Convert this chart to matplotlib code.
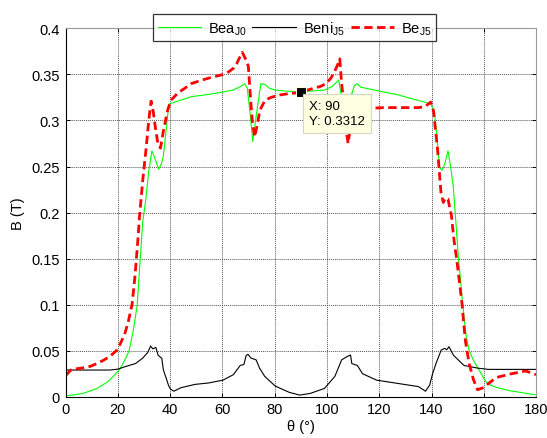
import numpy as np
import matplotlib
matplotlib.use('Agg')
import matplotlib.pyplot as plt

plt.rcParams['font.family'] = ['Liberation Sans', 'DejaVu Sans']
plt.rcParams['mathtext.fontset'] = 'custom'
plt.rcParams['mathtext.rm'] = 'Liberation Sans'

# Bea_J0 (green)
green_theta = [0, 3, 6.7, 12, 16, 18.7, 20.7, 22.7, 24.3, 26, 27.4, 28.3, 29.5, 30.7, 31.8, 33, 34,
               35.6, 36.5, 37.3, 38.3, 39, 39.6, 44, 48.3, 54, 60.3, 64, 67, 68.5, 69.5, 70.5, 71.6,
               73, 74.7, 76.3, 78, 80.3, 84, 88.3, 94, 99, 102, 104.5, 105.6, 106.6, 107.5, 109,
               110.5, 111.6, 113, 115, 121.6, 127, 132, 136, 139.7, 141, 141.6, 142.3, 143, 144, 145,
               146.3, 147.3, 148.3, 149.3, 150.3, 151, 151.6, 152.5, 153.3, 154.4, 156, 158, 160,
               161, 163, 165, 170, 175, 180]
green_b = [0.001, 0.002, 0.0036, 0.009, 0.016, 0.0235, 0.030, 0.040, 0.05, 0.074, 0.10, 0.14, 0.19,
           0.215, 0.245, 0.267, 0.26, 0.247, 0.252, 0.26, 0.285, 0.305, 0.318, 0.322, 0.326, 0.328,
           0.331, 0.333, 0.337, 0.340, 0.335, 0.31, 0.277, 0.307, 0.340, 0.339, 0.335, 0.333, 0.332,
           0.331, 0.332, 0.333, 0.337, 0.344, 0.325, 0.31, 0.305, 0.325, 0.338, 0.340, 0.336, 0.335,
           0.331, 0.328, 0.324, 0.321, 0.318, 0.31, 0.296, 0.275, 0.249, 0.246, 0.252, 0.267, 0.25,
           0.229, 0.19, 0.15, 0.13, 0.11, 0.085, 0.065, 0.05, 0.04, 0.030, 0.02, 0.0156, 0.012,
           0.010, 0.0065, 0.0043, 0.002]

# Beni_J5 (black)
black_theta = [0, 17, 20, 22.7, 26.7, 29.4, 31.4, 32.5, 33.4, 34.5, 35.4, 36.8, 37.4, 38.5, 39.4,
               40.1, 41.4, 44.1, 49.5, 54.8, 60.2, 64.2, 66.8, 68.2, 69.1, 69.8, 70.9, 72.9, 74.2,
               76.2, 80.2, 85.6, 89.6, 93.6, 99, 103, 104.3, 105.6, 107.6, 109, 109.5, 111.6, 113.6,
               119, 127, 135, 137.7, 139.3, 140.4, 141.7, 143.7, 145, 145.8, 146.7, 148.4, 152.4,
               157.8, 161.8, 176.5, 180]
black_b = [0.029, 0.029, 0.030, 0.0326, 0.036, 0.0417, 0.048, 0.055, 0.052, 0.0536, 0.045, 0.0417,
           0.029, 0.020, 0.012, 0.0083, 0.006, 0.0098, 0.0134, 0.015, 0.018, 0.024, 0.034, 0.035,
           0.045, 0.046, 0.042, 0.040, 0.031, 0.022, 0.0116, 0.0047, 0.0018, 0.0036, 0.009, 0.022,
           0.031, 0.040, 0.0435, 0.0453, 0.036, 0.034, 0.025, 0.018, 0.0145, 0.011, 0.006, 0.0127,
           0.025, 0.036, 0.0507, 0.0525, 0.051, 0.0543, 0.045, 0.034, 0.031, 0.0297, 0.0297, 0.0297]

# Be_J5 (red dashed)
red_theta = [0, 1, 2, 3, 6, 9.4, 12, 14.7, 17, 19.4, 21, 22.7, 24, 25.4, 26.5, 27.5, 28.3, 29.5,
             30.7, 31.8, 32.7, 33.5, 34.3, 35.3, 36.3, 37.5, 39, 40.3, 43, 45.6, 48, 52.3, 56, 60.3,
             62.5, 64.3, 65.5, 66.5, 67.6, 68.8, 69.9, 70.6, 71.4, 72.3, 73.3, 74.3, 76.3, 78.5,
             81.6, 85, 88.3, 90, 92.5, 94.9, 97.5, 99.6, 101.5, 102.9, 104, 104.9, 105.6, 106.3,
             107.3, 108.1, 108.8, 109.6, 111, 115, 121.6, 128.3, 135, 137.5, 139.7, 140.8, 141.5,
             142.3, 143.6, 144.5, 145.3, 146.3, 147.6, 148.6, 149.6, 151, 151.7, 152.3, 153, 154.4,
             156, 157.6, 160, 162.5, 165, 170, 176, 180]
red_b = [0.023, 0.026, 0.029, 0.030, 0.031, 0.033, 0.036, 0.040, 0.044, 0.05, 0.058, 0.069, 0.082,
         0.10, 0.13, 0.165, 0.197, 0.235, 0.267, 0.30, 0.321, 0.31, 0.293, 0.275, 0.27, 0.29, 0.311,
         0.322, 0.33, 0.335, 0.34, 0.344, 0.347, 0.35, 0.353, 0.357, 0.362, 0.368, 0.374, 0.367,
         0.359, 0.33, 0.3, 0.282, 0.295, 0.311, 0.322, 0.325, 0.3276, 0.329, 0.330, 0.3312, 0.333,
         0.335, 0.337, 0.340, 0.346, 0.353, 0.36, 0.367, 0.34, 0.322, 0.29, 0.275, 0.29, 0.308,
         0.311, 0.313, 0.314, 0.314, 0.314, 0.315, 0.32, 0.31, 0.29, 0.269, 0.222, 0.211, 0.216,
         0.2146, 0.197, 0.17, 0.15, 0.117, 0.10, 0.08, 0.06, 0.036, 0.019, 0.0076, 0.010, 0.016,
         0.021, 0.0246, 0.028, 0.024]

tip_x, tip_y = 90, 0.3312

fig = plt.figure(figsize=(5.47, 4.39), dpi=100)
ax = fig.add_axes([0.12, 0.094, 0.86, 0.839])

ax.plot(green_theta, green_b, color='#00ff00', lw=0.8, label=r'Bea$_{\mathregular{J0}}$')
ax.plot(black_theta, black_b, color='black', lw=0.8, label=r'Beni$_{\mathregular{J5}}$')
ax.plot(red_theta, red_b, color='red', lw=2, ls=(0, (3, 1.6)), label=r'Be$_{\mathregular{J5}}$')

# data tip
ax.plot(tip_x, tip_y, 's', color='black', ms=7.5, mec='#ffffe0', mew=0.8, zorder=5)
ax.text(tip_x + 3.0, tip_y - 0.0088, f'X: {tip_x}\nY: {tip_y}', fontsize=9.5, va='top', ha='left',
        linespacing=1.4, zorder=6,
        bbox=dict(boxstyle='square,pad=0.45', fc='#ffffe1', ec='#d8d8c0', lw=0.8))

ax.set_xlim(0, 180)
ax.set_ylim(0, 0.4)
ax.set_xticks(np.arange(0, 181, 20))
ax.set_yticks(np.arange(0, 0.41, 0.05))
ax.set_yticklabels(['0', '0.05', '0.1', '0.15', '0.2', '0.25', '0.3', '0.35', '0.4'])
ax.tick_params(direction='in', top=True, right=True, labelsize=10.5, length=3, width=0.7, pad=4)
ax.grid(True, color='#555555', ls=(0, (1, 1)), lw=0.7)
for side in ['left', 'bottom']:
    ax.spines[side].set_linewidth(0.8)
for side in ['top', 'right']:
    ax.spines[side].set_linewidth(0.8)
    ax.spines[side].set_color('#999999')

ax.set_xlabel('θ (°)', fontsize=10.5, labelpad=2)
ax.set_ylabel('B (T)', fontsize=10.5, labelpad=5)

leg = ax.legend(loc='lower left', bbox_to_anchor=(0.186, 0.966, 0.601, 0.091), mode='expand',
                ncol=3, fontsize=10.5, frameon=True, fancybox=False, edgecolor='black',
                handlelength=3.0, handletextpad=0.45, columnspacing=0.6, borderpad=0.3,
                borderaxespad=0)
leg.get_frame().set_linewidth(0.9)
leg.set_zorder(10)

fig.savefig('out.png', dpi=100)
